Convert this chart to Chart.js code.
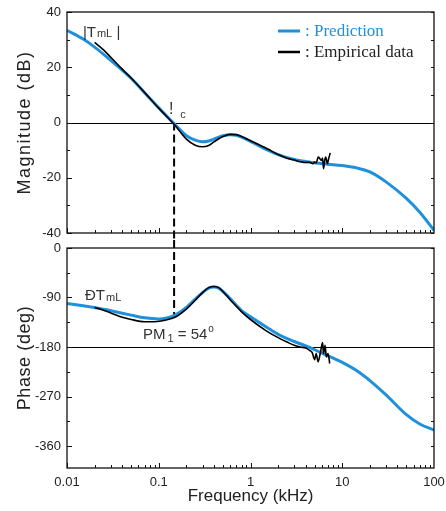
<!DOCTYPE html>
<html>
<head>
<meta charset="utf-8">
<script src="https://cdn.jsdelivr.net/npm/chart.js@4.4.0/dist/chart.umd.min.js"></script>
<style>
  html, body { margin: 0; padding: 0; background: #fff; overflow: hidden; }
  #wrap { position: relative; width: 446px; height: 511px; }
  .box { position: absolute; left: 0; width: 446px; }
  #magBox { top: 0; height: 240px; }
  #phaseBox { top: 240px; height: 271px; }
</style>
</head>
<body>
<div id="wrap">
  <div class="box" id="magBox"><canvas id="mag" width="446" height="240"></canvas></div>
  <div class="box" id="phaseBox"><canvas id="phase" width="446" height="271"></canvas></div>
</div>
<script>
// prediction (model), one frequency grid for both plots, kHz
const predFreq  = [0.01, 0.015, 0.02, 0.03, 0.05, 0.07, 0.1, 0.15, 0.2, 0.25, 0.3, 0.35, 0.4, 0.45, 0.5, 0.6, 0.7, 0.8, 1, 1.5, 2, 3, 4, 5, 7, 10, 15, 20, 30, 50, 70, 100];
const predMag   = [33.4, 30.2, 27.3, 22.5, 16.0, 10.8, 5.3, -0.7, -4.8, -6.4, -7.0, -6.7, -6.0, -5.3, -4.8, -4.4, -4.6, -5.3, -6.8, -9.8, -11.6, -13.4, -14.1, -14.6, -15.1, -15.6, -16.6, -17.9, -21.5, -27.5, -32.5, -39.0];
const predPhase = [-101, -105, -108, -114, -122, -127, -129, -122, -108, -93, -81, -73, -71, -73, -79, -92, -104, -114, -125, -144, -157, -170, -178, -185, -196, -208, -225, -241, -267, -303, -320, -331];

// measured data
const empMagFreq = [0.02, 0.025, 0.03, 0.04, 0.05, 0.07, 0.1, 0.15, 0.2, 0.25, 0.3, 0.35, 0.4, 0.5, 0.6, 0.7, 0.8, 1, 1.5, 2, 2.5, 3, 3.5, 4, 4.4, 4.8, 5.0, 5.2, 5.47, 5.7, 5.9, 6.1, 6.26, 6.45, 6.6, 6.9, 7.1, 7.4];
const empMag     = [29.0, 26.3, 23.6, 19.3, 16.1, 10.9, 5.2, -1.0, -6.0, -8.2, -8.8, -8.3, -7.0, -5.1, -4.3, -4.4, -5.1, -6.6, -9.4, -11.6, -12.9, -13.6, -14.2, -14.5, -14.4, -14.9, -14.3, -14.7, -12.5, -13.1, -13.7, -12.9, -16.7, -13.6, -12.5, -14.9, -13.2, -11.0];
const empPhaseFreq = [0.02, 0.025, 0.03, 0.04, 0.05, 0.07, 0.09, 0.12, 0.15, 0.2, 0.25, 0.3, 0.35, 0.4, 0.45, 0.5, 0.6, 0.7, 0.8, 1, 1.5, 2, 2.5, 3, 3.5, 4, 4.4, 4.7, 5.0, 5.2, 5.45, 5.8, 6.1, 6.25, 6.5, 6.7, 7.0, 7.3];
const empPhase     = [-108, -113, -118, -126, -130, -134, -134, -131, -126, -111, -95, -81, -72, -70, -72, -79, -94, -106, -116, -130, -151, -163, -171, -177, -180, -182, -186, -190, -203, -192, -207, -189, -172, -192, -177, -198, -192, -210];

const freqTicks  = [0.01, 0.1, 1, 10, 100];
const magTicks   = [40, 20, 0, -20, -40];
const phaseTicks = [0, -90, -180, -270, -360];
const seriesNames = ['Prediction', 'Empirical data'];
const crossFreq = 0.147;     // kHz, |T| = 0 dB
const phaseMargin = 54;      // deg

const BLUE = '#1e90dc';
const SANS = '"Liberation Sans", Arial, sans-serif';
const SERIF = '"Liberation Serif", "Times New Roman", serif';

function line(ctx, x0, y0, x1, y1) {
  ctx.beginPath(); ctx.moveTo(x0, y0); ctx.lineTo(x1, y1); ctx.stroke();
}

const decor = {
  id: 'decor',
  beforeDatasetsDraw(chart, args, o) {
    const {ctx, chartArea: a} = chart;
    const x = chart.scales.x, y = chart.scales.y;
    ctx.save();
    ctx.strokeStyle = '#000';
    ctx.lineWidth = 1;
    const yr = Math.round(y.getPixelForValue(o.refValue)) + 0.5;
    line(ctx, a.left, yr, a.right, yr);
    // crossover marker
    const xc = x.getPixelForValue(crossFreq);
    const y0 = o.dashStart == null ? 0 : y.getPixelForValue(o.dashStart);
    const y1 = o.dashEnd == null ? chart.height : y.getPixelForValue(o.dashEnd);
    ctx.setLineDash([8, 4]);
    ctx.lineWidth = 2;
    line(ctx, xc, y0, xc, y1);
    ctx.restore();
  },
  afterDraw(chart, args, o) {
    const {ctx, chartArea: a} = chart;
    const x = chart.scales.x, y = chart.scales.y;
    ctx.save();
    ctx.strokeStyle = '#111';
    ctx.lineWidth = 1;
    // log ticks on bottom edge
    for (let d = -2; d < 2; d++) {
      for (let k = 1; k < 10; k++) {
        const px = Math.round(x.getPixelForValue(k * Math.pow(10, d))) + 0.5;
        line(ctx, px, a.bottom, px, a.bottom - (k === 1 ? 5 : 3));
      }
    }
    // y ticks, left and right
    for (let v = y.max; v >= y.min; v -= o.minorStep) {
      const py = Math.round(y.getPixelForValue(v)) + 0.5;
      const major = v % o.majorStep === 0;
      line(ctx, a.left, py, a.left + (major ? 5 : 3), py);
      line(ctx, a.right, py, a.right - 3, py);
    }
    ctx.lineWidth = 1.3;
    ctx.strokeRect(a.left, a.top, a.right - a.left, a.bottom - a.top);

    // text notes
    ctx.fillStyle = '#333';
    ctx.textBaseline = 'alphabetic';
    (o.notes || []).forEach(n => {
      let px = x.getPixelForValue(n.x);
      const py = y.getPixelForValue(n.y);
      n.runs.forEach(r => {
        ctx.font = r.size + 'px ' + SANS;
        px += r.dx || 0;
        ctx.fillText(r.t, px, py + (r.dy || 0));
        px += ctx.measureText(r.t).width;
      });
    });

    // legend inside the magnitude plot
    if (o.legend) {
      const ds = chart.data.datasets;
      const rows = [ds[1], ds[0]];
      rows.forEach((d, i) => {
        const ly = a.top + 19 + i * 21;
        ctx.strokeStyle = d.borderColor;
        ctx.lineWidth = i === 0 ? 3 : 2.5;
        line(ctx, a.right - 156, ly, a.right - 134, ly);
        ctx.fillStyle = i === 0 ? BLUE : '#222';
        ctx.font = '17px ' + SERIF;
        ctx.fillText(': ' + d.label, a.right - 129, ly + 5);
      });
    }
    ctx.restore();
  }
};

function lineSet(label, xs, ys, color, width) {
  return {
    label: label,
    data: xs.map((f, i) => ({x: f, y: ys[i]})),
    borderColor: color,
    borderWidth: width,
    pointRadius: 0,
    fill: false,
    cubicInterpolationMode: 'monotone'
  };
}

function makeChart(id, cfg) {
  const tickFont = {family: SANS, size: 13};
  return new Chart(document.getElementById(id), {
    type: 'line',
    data: {
      datasets: [
        lineSet(seriesNames[1], cfg.empX, cfg.empY, '#000', 1.6),
        lineSet(seriesNames[0], predFreq, cfg.predY, BLUE, 3)
      ]
    },
    plugins: [decor],
    options: {
      responsive: false,
      animation: false,
      devicePixelRatio: 1,
      layout: {padding: {left: 0, right: 12, top: cfg.padTop, bottom: 0}},
      scales: {
        x: {
          type: 'logarithmic',
          min: 0.01,
          max: 100,
          afterBuildTicks: s => { s.ticks = freqTicks.map(v => ({value: v})); },
          afterFit: s => { s.height = cfg.xHeight; s.paddingLeft = 0; s.paddingRight = 0; },
          grid: {display: false, drawTicks: false},
          border: {display: false},
          ticks: {
            display: cfg.xLabels,
            padding: 7,
            color: '#222',
            font: tickFont,
            maxRotation: 0,
            autoSkip: false,
            callback: v => String(v)
          },
          title: {
            display: cfg.xLabels,
            text: 'Frequency (kHz)',
            color: '#222',
            font: {family: SANS, size: 17},
            padding: {top: 0, bottom: 4}
          }
        },
        y: {
          min: cfg.yMin,
          max: cfg.yMax,
          afterBuildTicks: s => { s.ticks = cfg.yTicks.map(v => ({value: v})); },
          afterFit: s => {
            s.width = 67; s.paddingTop = 0; s.paddingBottom = 0;
            if (!s._spaced) {
              const base = s.drawTitle;
              s.drawTitle = function () {
                this.ctx.save();
                this.ctx.letterSpacing = cfg.titleSpacing;
                base.call(this);
                this.ctx.restore();
              };
              s._spaced = true;
            }
          },
          grid: {display: false, drawTicks: false},
          border: {display: false},
          ticks: {padding: 6, color: '#222', font: tickFont},
          title: {
            display: true,
            text: cfg.yTitle,
            color: '#222',
            font: {family: SANS, size: 18},
            padding: {top: 14, bottom: 0}
          }
        }
      },
      plugins: {
        legend: {display: false},
        tooltip: {enabled: false},
        decor: cfg.decor
      }
    }
  });
}

makeChart('mag', {
  empX: empMagFreq, empY: empMag, predY: predMag,
  yMin: -40, yMax: 40, yTicks: magTicks, yTitle: 'Magnitude (dB)', titleSpacing: '1.5px',
  padTop: 12, xHeight: 7, xLabels: false,
  decor: {
    refValue: 0, dashStart: 0, dashEnd: null, minorStep: 10, majorStep: 20, legend: true,
    notes: [
      {x: 0.0149, y: 30.9, runs: [{t: '|T', size: 15}, {t: 'mL', size: 11, dx: 1}, {t: ' |', size: 15}]},
      {x: 0.129, y: 3.2, runs: [{t: '!', size: 16}, {t: 'c', size: 11, dx: 7, dy: 4}]}
    ]
  }
});

makeChart('phase', {
  empX: empPhaseFreq, empY: empPhase, predY: predPhase,
  yMin: -400, yMax: 0, yTicks: phaseTicks, yTitle: 'Phase (deg)', titleSpacing: '0.6px',
  padTop: 8, xHeight: 43, xLabels: true,
  decor: {
    refValue: -180, dashStart: null, dashEnd: -180 + phaseMargin, minorStep: 45, majorStep: 90, legend: false,
    notes: [
      {x: 0.0157, y: -94.4, runs: [{t: '\u00D0T', size: 15}, {t: 'mL', size: 11, dx: 1, dy: 1}]},
      {x: 0.0673, y: -165.7, runs: [{t: 'PM', size: 15}, {t: '1', size: 11, dx: 2, dy: 3}, {t: ' = ' + phaseMargin, size: 15}, {t: 'o', size: 10, dx: 1, dy: -7}]}
    ]
  }
});
</script>
</body>
</html>
